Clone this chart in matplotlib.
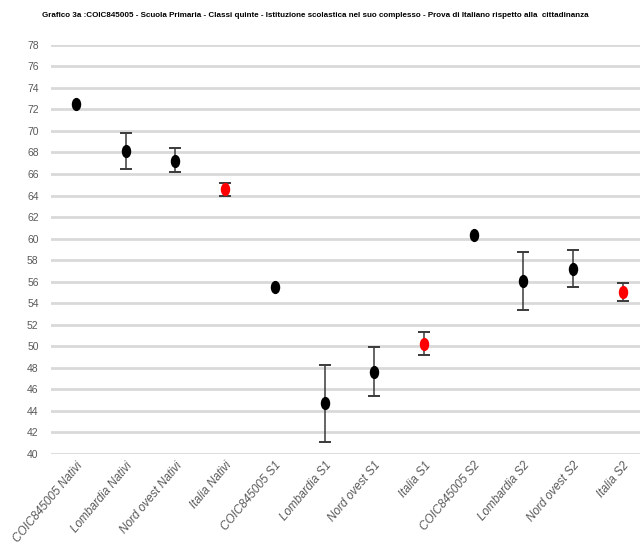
import matplotlib
matplotlib.use("Agg")
import matplotlib.pyplot as plt
import numpy as np
from matplotlib.path import Path

categories = ["COIC845005 Nativi", "Lombardia Nativi", "Nord ovest Nativi", "Italia Nativi",
              "COIC845005 S1", "Lombardia S1", "Nord ovest S1", "Italia S1",
              "COIC845005 S2", "Lombardia S2", "Nord ovest S2", "Italia S2"]
values = [72.5, 68.1, 67.2, 64.6, 55.5, 44.7, 47.6, 50.2, 60.3, 56.1, 57.2, 55.0]
upper = [72.6, 69.8, 68.4, 65.2, 55.6, 48.3, 49.9, 51.3, 60.4, 58.8, 58.9, 55.85]
lower = [72.4, 66.5, 66.2, 64.0, 55.4, 41.1, 45.4, 49.2, 60.2, 53.4, 55.5, 54.2]
point_colors = ["black", "black", "black", "red", "black", "black", "black", "red",
                "black", "black", "black", "red"]
yticks = list(range(40, 80, 2))
title = ("Grafico 3a :COIC845005 - Scuola Primaria - Classi quinte - Istituzione scolastica "
         "nel suo complesso - Prova di Italiano rispetto alla  cittadinanza")

sans = ["Liberation Sans", "DejaVu Sans"]

fig = plt.figure(figsize=(6.4, 5.52), dpi=100)
ax = fig.add_axes([0.0799, 0.1775, 0.932, 0.7415])

x = np.arange(len(categories))
vals = np.array(values)
up = np.array(upper)
lo = np.array(lower)
big = (up - lo) > 0.5
yerr = np.vstack([vals - lo, up - vals])

ax.errorbar(x[big], vals[big], yerr=yerr[:, big], fmt="none", ecolor="#3a3a3a",
            elinewidth=1.1, capsize=4.5, capthick=1.4, zorder=3)
ax.errorbar(x[~big], vals[~big], yerr=yerr[:, ~big], fmt="none", ecolor="black",
            elinewidth=1.1, capsize=0, zorder=3)

circ = Path.unit_circle()
ell = Path(circ.vertices * np.array([0.68, 1.0]), circ.codes)
for xi, v, c in zip(x, vals, point_colors):
    ax.plot(xi, v, marker=ell, markersize=8.5, color=c, linestyle="none", zorder=4)

ax.set_xlim(-0.5, 11.5)
ax.set_ylim(40, 78)
ax.set_yticks(yticks)
ax.grid(axis="y", color="#d9d9d9", linewidth=2)
ax.set_axisbelow(True)
for s in ax.spines.values():
    s.set_visible(False)
ax.tick_params(axis="y", length=0, pad=9, colors="#595959")
ax.tick_params(axis="x", length=0, pad=4)
for lab in ax.get_yticklabels():
    lab.set_family(sans)
    lab.set_fontsize(7.5)

ax.set_xticks(x)
ax.set_xticklabels(categories, rotation=50, ha="right", va="top", rotation_mode="anchor",
                   fontstyle="italic", fontsize=8.5, color="#595959", family=sans)

fig.text(0.066, 0.972, title, fontsize=5.8, fontweight="bold", family=sans,
         ha="left", va="center", color="black")

fig.savefig("out.png", dpi=100)
